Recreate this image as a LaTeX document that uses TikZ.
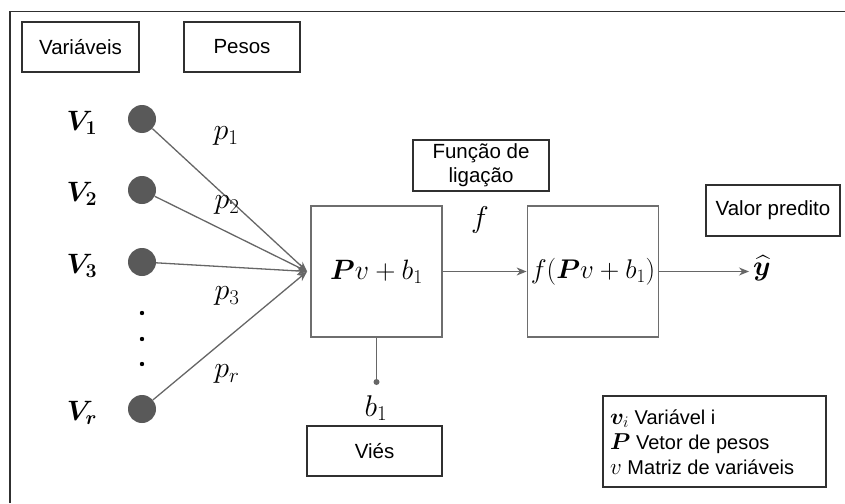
\RequirePackage{fix-cm}
\documentclass[tikz,border=0pt]{standalone}
\usepackage{fontspec}
\setmainfont{Liberation Sans}
\usepackage{amsmath}
\usepackage{bm}
\usetikzlibrary{arrows.meta}
\definecolor{linegray}{HTML}{666666}
\definecolor{boxgray}{HTML}{6E6E6E}
\definecolor{dotgray}{HTML}{595959}
\definecolor{labelbox}{HTML}{303030}
\begin{document}
\begin{tikzpicture}[x=1pt,y=-1pt,
  lbl/.style={draw=labelbox,line width=1.3pt,inner sep=0pt,font=\fontsize{20.5}{24}\selectfont,align=center},
  mainbox/.style={draw=boxgray,line width=1.8pt,minimum width=131pt,minimum height=131pt,inner sep=0pt},
  var/.style={circle,fill=dotgray,minimum size=28pt,inner sep=0pt},
  mathlbl/.style={font=\fontsize{28}{32}\selectfont,inner sep=0pt},
  wlbl/.style={font=\fontsize{30}{34}\selectfont,inner sep=0pt},
  conn/.style={draw=linegray,line width=1.3pt},
  tipa/.style={-{Stealth[length=10pt,width=8pt]}},
]
\useasboundingbox (0,0) rectangle (845,503);
% outer frame (top and left visible)
\draw[draw=labelbox,line width=1.2pt] (10,503) -- (10,11.5) -- (845,11.5);

% label boxes
\node[lbl,minimum width=117pt,minimum height=50pt] (variaveis) at (80.5,47) {Variáveis};
\node[lbl,minimum width=116pt,minimum height=50pt] (pesos) at (242,47) {Pesos};
\node[lbl,minimum width=136pt,minimum height=51pt] (funcao) at (481,165.5) {Função de\\ligação};
\node[lbl,minimum width=134pt,minimum height=51pt] (valor) at (773,210.5) {Valor predito};
\node[lbl,minimum width=135pt,minimum height=50pt] (vies) at (374.5,451) {Viés};

% variable circles
\node[var] (c1) at (142,119) {};
\node[var] (c2) at (142,190) {};
\node[var] (c3) at (142,262) {};
\node[var] (cr) at (142,409) {};
\foreach \yy/\nm in {313/d1,339/d2,364/d3}
  \fill[black] (142,\yy) circle (2.2pt) coordinate (\nm);

% variable labels
\node[mathlbl] (v1) at (82,123) {$\bm{V_1}$};
\node[mathlbl] (v2) at (82,194) {$\bm{V_2}$};
\node[mathlbl] (v3) at (82,266) {$\bm{V_3}$};
\node[mathlbl] (vr) at (82,413) {$\bm{V_r}$};

% main boxes
\node[mainbox] (box1) at (376.5,271.5) {\fontsize{28}{32}\selectfont$\bm{P}v+b_1$};
\node[mainbox] (box2) at (593,271.5) {\fontsize{27}{32}\selectfont$f(\bm{P}v+b_1)$};

% weights connectors
\foreach \c in {c1,c2,c3,cr}
  \draw[conn,tipa] (\c) -- ([xshift=-3pt]box1.west);

% weight labels
\node[wlbl] (p1) at (226,136) {$p_1$};
\node[wlbl] (p2) at (227,205) {$p_2$};
\node[wlbl] (p3) at (227,296) {$p_3$};
\node[wlbl] (pr) at (227,374) {$p_r$};

% link function
\node[wlbl] (f) at (480,220) {$f$};
\draw[conn,tipa] (box1.east) -- (box2.west);

% output
\node[mathlbl] (yhat) at (762,268) {$\widehat{\bm{y}}$};
\draw[conn,tipa,shorten >=4pt] (box2.east) -- (box2.east -| yhat.west);

% bias
\coordinate (bdot) at (376.5,382);
\draw[conn] (box1.south) -- (bdot);
\fill[linegray] (bdot) circle (3pt);
\node[wlbl] (b1) at (376,408) {$b_1$};

% legend
\node[draw=labelbox,line width=1.3pt,minimum width=223pt,minimum height=91pt,inner sep=0pt] (legend) at (714.5,441.5) {};
\node[anchor=west,align=left,inner sep=0pt,font=\fontsize{20}{25}\selectfont] (legtext) at (610,442)
  {{\fontsize{23}{25}\selectfont$\bm{v}_i$} Variável i\\
   {\fontsize{23}{25}\selectfont$\bm{P}$} Vetor de pesos\\
   {\fontsize{23}{25}\selectfont$v$} Matriz de variáveis};
\end{tikzpicture}
\end{document}
